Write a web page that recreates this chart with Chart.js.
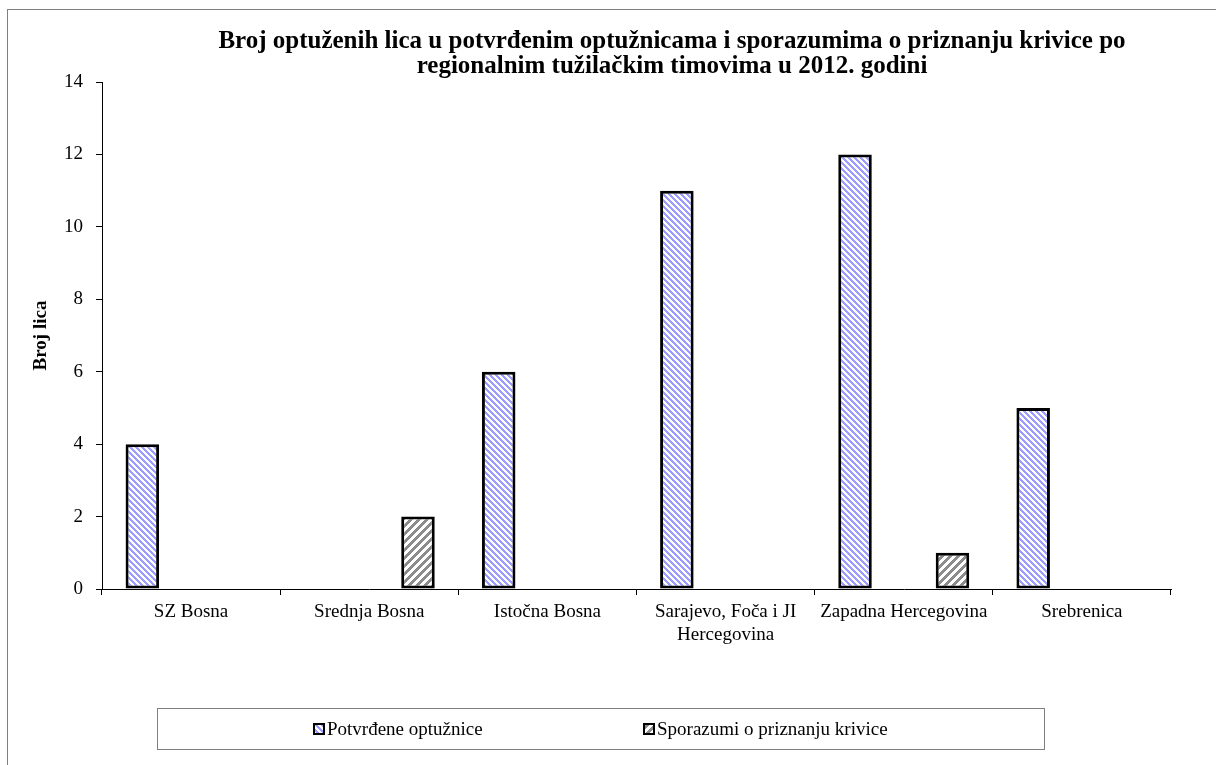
<!DOCTYPE html>
<html>
<head>
<meta charset="utf-8">
<script src="https://cdn.jsdelivr.net/npm/chart.js@4.4.0/dist/chart.umd.min.js"></script>
<style>
  body { margin: 0; width: 1216px; height: 765px; overflow: hidden; background: #fff; position: relative;
         font-family: "Liberation Serif", "Times New Roman", serif; color: #000; }
  #frame { position: absolute; left: 7px; top: 9px; width: 1300px; height: 900px; border: 1px solid #808080; }
  #wrap { position: absolute; left: 0; top: 0; width: 1216px; height: 765px; }
  #title { position: absolute; left: 172px; width: 1000px; top: 27px; text-align: center;
           font-weight: bold; font-size: 25px; line-height: 25px; }
  #legend { position: absolute; left: 157px; top: 708px; width: 886px; height: 40px; border: 1px solid #808080; }
  .item { position: absolute; top: 0; height: 40px; display: flex; align-items: center; font-size: 19px; }
  .box { width: 8px; height: 8px; border: 2px solid #000; margin-right: 2px; }
</style>
</head>
<body>
<div id="frame"></div>
<div id="wrap"><canvas id="myChart"></canvas></div>
<div id="title">Broj optuženih lica u potvrđenim optužnicama i sporazumima o priznanju krivice po<br>regionalnim tužilačkim timovima u 2012. godini</div>
<div id="legend">
  <div class="item" style="left:155px"><div class="box" id="box1"></div>Potvrđene optužnice</div>
  <div class="item" style="left:485px"><div class="box" id="box2"></div>Sporazumi o priznanju krivice</div>
</div>

<script>
// Data
const categories = ['SZ Bosna', 'Srednja Bosna', 'Istočna Bosna', ['Sarajevo, Foča i JI', 'Hercegovina'], 'Zapadna Hercegovina', 'Srebrenica'];
const seriesNames = ['Potvrđene optužnice', 'Sporazumi o priznanju krivice'];
const potvrdene = [4, 0, 6, 11, 12, 5];
const sporazumi = [0, 2, 0, 0, 1, 0];
const yTicks = [0, 2, 4, 6, 8, 10, 12, 14];

// Striped fill patterns
function makeStripes(size, width, color, dir) {
    const c = document.createElement('canvas');
    c.width = size; c.height = size;
    const g = c.getContext('2d');
    g.fillStyle = '#fff';
    g.fillRect(0, 0, size, size);
    g.fillStyle = color;
    for (let y = 0; y < size; y++) {
        for (let x = 0; x < size; x++) {
            const k = dir > 0 ? (x + y) : (x - y);
            if (((k % size) + size) % size < width) g.fillRect(x, y, 1, 1);
        }
    }
    return c;
}
const blueTile = makeStripes(6, 3, '#9d9dff', -1);
const grayTile = makeStripes(8, 4, '#8c8c8c', 1);
const ctx = document.getElementById('myChart').getContext('2d');
const bluePattern = ctx.createPattern(blueTile, 'repeat');
const grayPattern = ctx.createPattern(grayTile, 'repeat');
document.getElementById('box1').style.background = 'url(' + blueTile.toDataURL() + ')';
document.getElementById('box2').style.background = 'url(' + grayTile.toDataURL() + ')';

const tickFont = { family: '"Liberation Serif", "Times New Roman", serif', size: 19 };

new Chart(ctx, {
    type: 'bar',
    data: {
        labels: categories,
        datasets: [
            { label: seriesNames[0], data: potvrdene, backgroundColor: bluePattern, borderColor: '#000', borderWidth: 3, borderSkipped: false },
            { label: seriesNames[1], data: sporazumi, backgroundColor: grayPattern, borderColor: '#000', borderWidth: 3, borderSkipped: false }
        ]
    },
    options: {
        responsive: true,
        maintainAspectRatio: false,
        animation: false,
        devicePixelRatio: 1,
        categoryPercentage: 1.094,
        barPercentage: 0.344,
        layout: { padding: { top: 82, right: 45, bottom: 116, left: 0 } },
        plugins: { legend: { display: false }, title: { display: false }, tooltip: { enabled: false } },
        scales: {
            x: {
                grid: { offset: true, drawOnChartArea: false, drawTicks: true, tickLength: 6, color: '#000' },
                border: { color: '#000', width: 1 },
                ticks: { color: '#000', font: tickFont, padding: 6, maxRotation: 0, autoSkip: false },
                afterFit: s => { s.height = 60; }
            },
            y: {
                min: 0, max: 14,
                afterBuildTicks: s => { s.ticks = yTicks.map(v => ({ value: v })); },
                grid: { drawOnChartArea: false, drawTicks: true, tickLength: 6, color: '#000' },
                border: { color: '#000', width: 1 },
                ticks: { color: '#000', font: tickFont, padding: 13 },
                title: { display: true, text: 'Broj lica', color: '#000', padding: { top: 30, bottom: 0 },
                         font: { family: '"Liberation Serif", "Times New Roman", serif', size: 19, weight: 'bold' } },
                afterFit: s => { s.width = 102; }
            }
        }
    }
});
</script>
</body>
</html>
